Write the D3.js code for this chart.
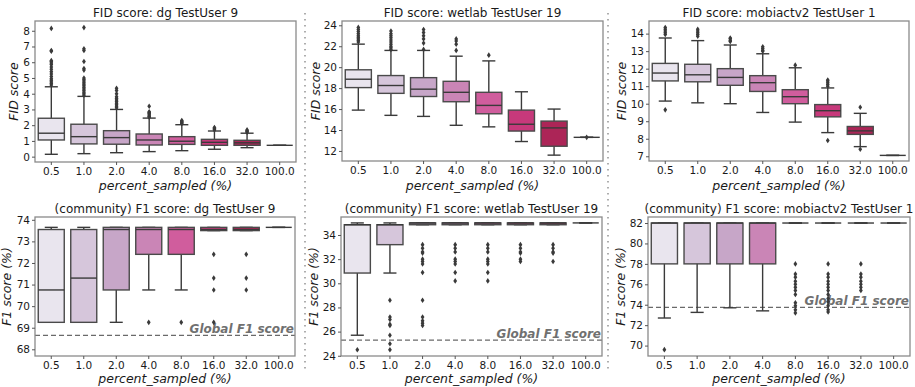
<!DOCTYPE html>
<html lang="en">
<head>
<meta charset="UTF-8"/>
<title>FID and F1 score by percent_sampled</title>
<script src="https://d3js.org/d3.v7.min.js"></script>
<style>
  body { margin: 0; background: #fff; }
  svg text { font-family: "DejaVu Sans", sans-serif; fill: #1a1a1a; }
</style>
</head>
<body>
<script>
// x categories and the box colours (seaborn PuRd, desaturated)
var categories = ["0.5", "1.0", "2.0", "4.0", "8.0", "16.0", "32.0", "100.0"];
var boxColors = ["#e9e5ee", "#d6c6db", "#c7a6c8", "#ca85b6", "#d05d9d", "#c7397b", "#ac2557", "#801242"];

// each box: [low whisker, q1, median, q3, high whisker]
var fidDgBoxes = [
    [0.15, 1.06, 1.49, 2.44, 4.44],
    [0.19, 0.81, 1.27, 2.06, 3.83],
    [0.25, 0.79, 1.21, 1.65, 3.0],
    [0.32, 0.74, 1.06, 1.44, 2.45],
    [0.38, 0.78, 0.98, 1.27, 2.03],
    [0.47, 0.72, 0.91, 1.10, 1.63],
    [0.57, 0.72, 0.88, 1.04, 1.49],
    [0.72, 0.72, 0.72, 0.72, 0.72]
];
var fidDgOutliers = [
    [4.55, 4.65, 4.75, 4.85, 4.95, 5.1, 5.25, 5.4, 5.55, 5.7, 5.85, 5.95, 6.05, 6.1, 6.7, 6.75, 8.15],
    [3.9, 4.0, 4.1, 4.2, 4.3, 4.4, 4.5, 4.6, 4.7, 4.8, 4.9, 5.0, 5.5, 5.6, 6.05, 6.75, 6.85, 8.2],
    [3.1, 3.2, 3.3, 3.4, 3.5, 3.6, 3.7, 3.8, 4.0, 4.2, 4.35],
    [2.5, 2.55, 2.6, 2.7, 2.75, 2.8, 2.85, 3.2],
    [2.1, 2.15, 2.2, 2.25, 2.3],
    [1.7, 1.75, 1.8, 1.85],
    [1.55, 1.6, 1.65, 1.7],
    []
];

var fidWetlabBoxes = [
    [15.9, 18.05, 18.85, 19.75, 22.2],
    [15.4, 17.5, 18.25, 19.2, 21.6],
    [15.3, 17.2, 17.9, 19.0, 21.6],
    [14.45, 16.7, 17.6, 18.65, 21.05],
    [14.3, 15.55, 16.35, 17.6, 20.6],
    [12.9, 13.9, 14.55, 15.9, 17.65],
    [11.6, 12.45, 14.2, 14.85, 16.0],
    [13.3, 13.3, 13.3, 13.3, 13.3]
];
var fidWetlabOutliers = [
    [22.4, 22.55, 22.7, 22.85, 23.0, 23.2, 23.4, 23.6, 23.8],
    [21.7, 21.85, 22.0, 22.2, 22.4, 22.6, 22.8, 23.0, 23.2, 23.45],
    [21.7, 22.3, 22.7, 23.0, 23.3, 23.6],
    [21.6, 22.2, 22.5, 22.7],
    [21.15],
    [],
    [],
    [13.3]
];

var fidMobiBoxes = [
    [10.15, 11.3, 11.75, 12.3, 13.75],
    [10.05, 11.25, 11.65, 12.25, 13.6],
    [10.0, 11.05, 11.5, 12.0, 13.35],
    [9.5, 10.7, 11.2, 11.6, 12.85],
    [8.95, 10.0, 10.4, 10.8, 12.05],
    [8.35, 9.25, 9.6, 9.95, 10.9],
    [7.55, 8.25, 8.45, 8.7, 9.45],
    [7.05, 7.05, 7.05, 7.05, 7.05]
];
var fidMobiOutliers = [
    [9.65, 13.95, 14.05, 14.15, 14.25, 14.35],
    [13.85, 13.95, 14.05, 14.15, 14.25],
    [13.55, 13.6, 13.7, 13.75],
    [13.0, 13.05, 13.15, 13.25],
    [12.2],
    [7.9, 11.0, 11.1, 11.2, 11.3, 11.35],
    [7.4, 9.8],
    []
];

var f1DgBoxes = [
    [69.25, 69.25, 70.75, 73.55, 73.65],
    [69.25, 69.25, 71.3, 73.55, 73.65],
    [69.25, 70.75, 73.55, 73.65, 73.65],
    [70.75, 72.4, 73.55, 73.65, 73.65],
    [70.75, 72.4, 73.55, 73.65, 73.65],
    [73.5, 73.5, 73.55, 73.65, 73.65],
    [73.5, 73.5, 73.55, 73.65, 73.65],
    [73.65, 73.65, 73.65, 73.65, 73.65]
];
var f1DgOutliers = [
    [], [], [],
    [69.25],
    [69.25],
    [72.4, 71.3, 70.75, 69.25],
    [72.4, 71.3, 70.75],
    []
];

var f1WetlabBoxes = [
    [25.7, 30.85, 34.85, 34.85, 35.0],
    [30.85, 33.2, 34.85, 34.85, 35.0],
    [34.85, 34.85, 35.0, 35.0, 35.0],
    [34.85, 34.85, 35.0, 35.0, 35.0],
    [34.85, 34.85, 35.0, 35.0, 35.0],
    [34.85, 34.85, 35.0, 35.0, 35.0],
    [34.85, 34.85, 35.0, 35.0, 35.0],
    [35.0, 35.0, 35.0, 35.0, 35.0]
];
var f1WetlabOutliers = [
    [24.5],
    [28.6, 27.2, 27.0, 26.6, 26.5, 25.7, 25.0, 24.5],
    [33.2, 32.9, 32.6, 32.5, 32.0, 31.8, 31.6, 30.9, 28.6, 27.2, 26.9, 26.7, 26.5],
    [33.2, 32.9, 32.6, 32.0, 31.8, 31.6, 30.9, 30.2],
    [33.2, 32.9, 32.6, 32.0, 31.8, 31.6, 30.9, 30.2],
    [33.2, 32.9, 32.6, 32.5, 32.0, 31.8],
    [33.2, 32.9, 32.6, 32.5, 31.8],
    []
];

var f1MobiBoxes = [
    [72.7, 78.0, 82.0, 82.0, 82.0],
    [73.25, 78.0, 82.0, 82.0, 82.0],
    [73.7, 78.0, 82.0, 82.0, 82.0],
    [73.4, 78.0, 82.0, 82.0, 82.0],
    [82.0, 82.0, 82.0, 82.0, 82.0],
    [82.0, 82.0, 82.0, 82.0, 82.0],
    [82.0, 82.0, 82.0, 82.0, 82.0],
    [82.0, 82.0, 82.0, 82.0, 82.0]
];
var f1MobiOutliers = [
    [69.6], [], [], [],
    [78.0, 77.0, 76.7, 76.3, 76.0, 75.7, 75.4, 75.0, 74.2, 73.9, 73.5, 73.2],
    [78.0, 77.0, 76.7, 76.3, 76.0, 75.7, 75.4, 75.0, 74.6, 74.3, 73.9, 73.5, 73.3],
    [78.0, 77.0, 76.7, 76.3, 76.0, 75.7, 75.4],
    []
];

// global F1 reference values (dg, wetlab, mobiactv2)
var globalF1 = [68.65, 25.3, 73.75];

// y tick values
var fidDgTicks = [0, 1, 2, 3, 4, 5, 6, 7, 8];
var fidWetlabTicks = [12, 14, 16, 18, 20, 22, 24];
var fidMobiTicks = [7, 8, 9, 10, 11, 12, 13, 14];
var f1DgTicks = [68, 69, 70, 71, 72, 73, 74];
var f1WetlabTicks = [24, 26, 28, 30, 32, 34];
var f1MobiTicks = [70, 72, 74, 76, 78, 80, 82];

var w = 915;
var h = 387;
var edge = "#3a3a3a";

var svg = d3.select("body")
    .append("svg")
    .attr("width", w)
    .attr("height", h);

// panel layout
var panels = [
    {title: "FID score: dg TestUser 9", ylabel: "FID score", boxes: fidDgBoxes, outliers: fidDgOutliers,
     ticks: fidDgTicks, ylim: [-0.34, 8.62], x0: 35, x1: 296, y0: 21, y1: 162, labelX: 18, row: 0},
    {title: "FID score: wetlab TestUser 19", ylabel: "FID score", boxes: fidWetlabBoxes, outliers: fidWetlabOutliers,
     ticks: fidWetlabTicks, ylim: [11.04, 24.41], x0: 342, x1: 603, y0: 21, y1: 161, labelX: 320, row: 0},
    {title: "FID score: mobiactv2 TestUser 1", ylabel: "FID score", boxes: fidMobiBoxes, outliers: fidMobiOutliers,
     ticks: fidMobiTicks, ylim: [6.73, 14.72], x0: 649, x1: 909, y0: 21, y1: 161, labelX: 626, row: 0},
    {title: "(community) F1 score: dg TestUser 9", ylabel: "F1 score (%)", boxes: f1DgBoxes, outliers: f1DgOutliers,
     ticks: f1DgTicks, ylim: [67.69, 74.13], x0: 35, x1: 295, y0: 217, y1: 356, labelX: 11, row: 1, global: globalF1[0]},
    {title: "(community) F1 score: wetlab TestUser 19", ylabel: "F1 score (%)", boxes: f1WetlabBoxes, outliers: f1WetlabOutliers,
     ticks: f1WetlabTicks, ylim: [23.98, 35.49], x0: 341, x1: 602, y0: 217, y1: 356, labelX: 318, row: 1, global: globalF1[1]},
    {title: "(community) F1 score: mobiactv2 TestUser 1", ylabel: "F1 score (%)", boxes: f1MobiBoxes, outliers: f1MobiOutliers,
     ticks: f1MobiTicks, ylim: [68.98, 82.59], x0: 648, x1: 910, y0: 217, y1: 356, labelX: 625, row: 1, global: globalF1[2]}
];
var titleY = [16.5, 213];
var xLabelY = [190, 383];

// dotted separators between the columns
[305, 608].forEach(function (sx) {
    svg.append("line")
        .attr("x1", sx).attr("x2", sx)
        .attr("y1", 13).attr("y2", 372)
        .attr("stroke", "#9a9a9a")
        .attr("stroke-width", 1.6)
        .attr("stroke-dasharray", "1.6,4.4");
});

var diamond = "M0,-2.8L1.9,0L0,2.8L-1.9,0Z";

panels.forEach(function (p) {
    var g = svg.append("g");

    var xScale = d3.scaleBand()
        .domain(categories)
        .range([p.x0, p.x1])
        .padding(0);
    var yScale = d3.scaleLinear()
        .domain(p.ylim)
        .range([p.y1, p.y0]);

    var bw = xScale.bandwidth() * 0.8;

    //global F1 dashed line
    if (p.global !== undefined) {
        g.append("line")
            .attr("x1", p.x0).attr("x2", p.x1)
            .attr("y1", yScale(p.global)).attr("y2", yScale(p.global))
            .attr("stroke", "#6a6a6a")
            .attr("stroke-width", 1.3)
            .attr("stroke-dasharray", "5,3");
        g.append("text")
            .attr("x", p.x1 - 1)
            .attr("y", yScale(p.global) - 2.5)
            .attr("text-anchor", "end")
            .attr("font-size", "12px")
            .attr("font-weight", "bold")
            .attr("font-style", "italic")
            .style("fill", "#707070")
            .text("Global F1 score");
    }

    var boxG = g.selectAll("g.box")
        .data(p.boxes)
        .enter()
        .append("g")
        .attr("class", "box");

    //whiskers
    boxG.append("line")
        .attr("x1", function (d, i) { return xScale(categories[i]) + xScale.bandwidth() / 2; })
        .attr("x2", function (d, i) { return xScale(categories[i]) + xScale.bandwidth() / 2; })
        .attr("y1", function (d) { return yScale(d[0]); })
        .attr("y2", function (d) { return yScale(d[4]); })
        .attr("stroke", edge)
        .attr("stroke-width", 1.4);

    //caps
    [0, 4].forEach(function (k) {
        boxG.append("line")
            .attr("x1", function (d, i) { return xScale(categories[i]) + xScale.bandwidth() / 2 - bw / 4; })
            .attr("x2", function (d, i) { return xScale(categories[i]) + xScale.bandwidth() / 2 + bw / 4; })
            .attr("y1", function (d) { return yScale(d[k]); })
            .attr("y2", function (d) { return yScale(d[k]); })
            .attr("stroke", edge)
            .attr("stroke-width", 1.4);
    });

    //boxes
    boxG.append("rect")
        .attr("x", function (d, i) { return xScale(categories[i]) + (xScale.bandwidth() - bw) / 2; })
        .attr("y", function (d) { return yScale(d[3]); })
        .attr("width", bw)
        .attr("height", function (d) { return yScale(d[1]) - yScale(d[3]); })
        .attr("fill", function (d, i) { return boxColors[i]; })
        .attr("stroke", "#4a4a4a")
        .attr("stroke-width", 1.4);

    //medians
    boxG.append("line")
        .attr("x1", function (d, i) { return xScale(categories[i]) + (xScale.bandwidth() - bw) / 2; })
        .attr("x2", function (d, i) { return xScale(categories[i]) + (xScale.bandwidth() + bw) / 2; })
        .attr("y1", function (d) { return yScale(d[2]); })
        .attr("y2", function (d) { return yScale(d[2]); })
        .attr("stroke", edge)
        .attr("stroke-width", 1.4);

    //outliers
    boxG.each(function (d, i) {
        d3.select(this).selectAll("path")
            .data(p.outliers[i])
            .enter()
            .append("path")
            .attr("d", diamond)
            .attr("transform", function (v) {
                return "translate(" + (xScale(categories[i]) + xScale.bandwidth() / 2) + "," + yScale(v) + ")";
            })
            .attr("fill", edge);
    });

    //frame
    g.append("rect")
        .attr("x", p.x0).attr("y", p.y0)
        .attr("width", p.x1 - p.x0).attr("height", p.y1 - p.y0)
        .attr("fill", "none")
        .attr("stroke", "#8a8a8a")
        .attr("stroke-width", 1.3);

    //axes
    var yAxis = g.append("g")
        .attr("transform", "translate(" + p.x0 + ",0)")
        .call(d3.axisLeft(yScale).tickValues(p.ticks).tickFormat(d3.format("d")).tickSize(3).tickPadding(2));
    var xAxis = g.append("g")
        .attr("transform", "translate(0," + p.y1 + ")")
        .call(d3.axisBottom(xScale).tickSize(3).tickPadding(2.5));
    [xAxis, yAxis].forEach(function (a) {
        a.select(".domain").remove();
        a.selectAll(".tick line").attr("stroke", "#555");
        a.selectAll(".tick text")
            .attr("font-size", "10.5px")
            .attr("font-family", "DejaVu Sans, sans-serif")
            .style("fill", "#1a1a1a");
    });

    //title
    g.append("text")
        .attr("x", (p.x0 + p.x1) / 2)
        .attr("y", titleY[p.row])
        .attr("text-anchor", "middle")
        .attr("font-size", "12px")
        .text(p.title);

    //axis labels
    g.append("text")
        .attr("x", (p.x0 + p.x1) / 2)
        .attr("y", xLabelY[p.row])
        .attr("text-anchor", "middle")
        .attr("font-size", "12.5px")
        .attr("font-style", "italic")
        .text("percent_sampled (%)");

    g.append("text")
        .attr("transform", "translate(" + p.labelX + "," + ((p.y0 + p.y1) / 2) + ") rotate(-90)")
        .attr("text-anchor", "middle")
        .attr("font-size", "12.5px")
        .attr("font-style", "italic")
        .text(p.ylabel);
});
</script>
</body>
</html>
